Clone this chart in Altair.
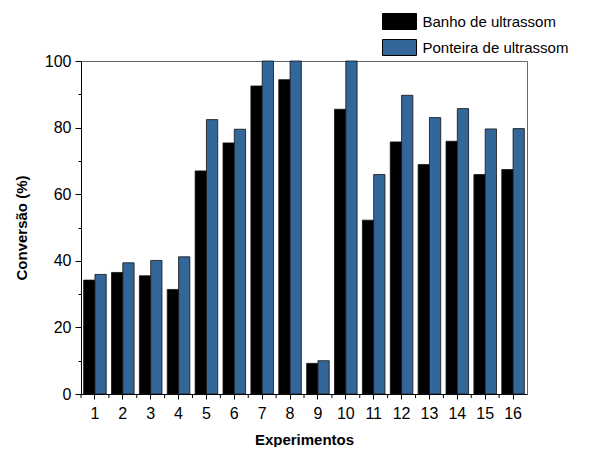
import altair as alt
import pandas as pd

experiments = list(range(1, 17))
banho = [34.2, 36.5, 35.5, 31.4, 67.0, 75.4, 92.5, 94.4, 9.2, 85.5, 52.2, 75.7, 68.9, 75.9, 65.9, 67.4]
ponteira = [35.9, 39.4, 40.1, 41.2, 82.4, 79.5, 100.0, 100.0, 10.0, 100.0, 65.9, 89.7, 83.0, 85.7, 79.6, 79.7]
methods = ["Banho de ultrassom", "Ponteira de ultrassom"]
colors = ["#000000", "#336699"]

rows = []
for e, b, p in zip(experiments, banho, ponteira):
    rows.append({"exp": e, "method": methods[0], "value": b})
    rows.append({"exp": e, "method": methods[1], "value": p})
df = pd.DataFrame(rows)
cats = pd.DataFrame({"exp": experiments})

FONT = "Liberation Sans"

xscale = alt.Scale(paddingInner=0, paddingOuter=0)

bars = alt.Chart(df).mark_bar(stroke="#111111", strokeWidth=0.8).encode(
    x=alt.X("exp:O", scale=xscale, sort=experiments,
            axis=alt.Axis(title="Experimentos", labelAngle=0, labelFontSize=16,
                          labelFont=FONT, labelColor="black", titleFont=FONT,
                          titleFontSize=15, titleFontWeight="bold", titleColor="black",
                          domainColor="black", tickColor="black", tickSize=5,
                          labelPadding=6, titlePadding=11)),
    xOffset=alt.XOffset("method:N", sort=methods,
                        scale=alt.Scale(paddingOuter=0.234, paddingInner=0)),
    y=alt.Y("value:Q", scale=alt.Scale(domain=[0, 100], nice=False),
            axis=alt.Axis(title="Conversão (%)", values=list(range(0, 101, 10)),
                          labelExpr="datum.value % 20 === 0 ? datum.label : ''",
                          tickSize={"condition": {"test": "datum.value % 20 !== 0", "value": 3}, "value": 6},
                          labelFontSize=16, labelFont=FONT, labelColor="black",
                          titleFont=FONT, titleFontSize=15, titleFontWeight="bold",
                          titleColor="black", domainColor="black", tickColor="black",
                          grid=False, labelPadding=4, titlePadding=15)),
    color=alt.Color("method:N", sort=methods,
                    scale=alt.Scale(domain=methods, range=colors),
                    legend=alt.Legend(title=None, orient="none", legendX=309.5, legendY=-48.5,
                                      symbolType="M-2,-0.94L2,-0.94L2,0.94L-2,0.94Z",
                                      symbolSize=289, symbolStrokeColor="black",
                                      symbolStrokeWidth=1, symbolOpacity=1,
                                      labelFont=FONT, labelFontSize=15, labelColor="black",
                                      labelOffset=14, rowPadding=6, padding=0)),
)

minor = alt.Chart(cats).mark_rule(color="black", strokeWidth=1).encode(
    x=alt.X("exp:O", scale=xscale, sort=experiments, bandPosition=0),
    y=alt.value(333),
    y2=alt.value(337),
)

chart = alt.layer(bars, minor).properties(
    width=446, height=333,
    padding={"left": 73, "top": 53, "right": 69, "bottom": 53},
    autosize="none",
).configure_view(stroke="#666666", strokeWidth=1)

chart.save("out.html", embed_options={"renderer": "svg", "actions": False})
